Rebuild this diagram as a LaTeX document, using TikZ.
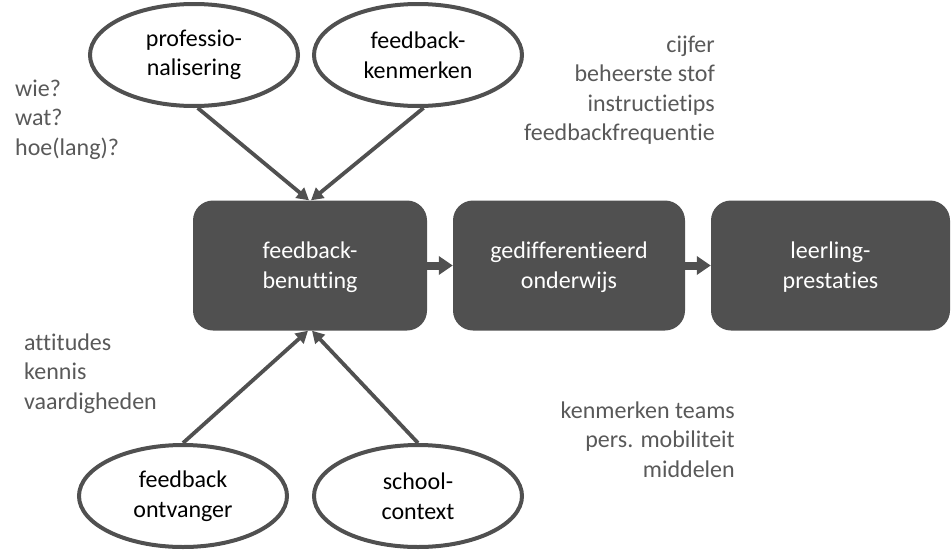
\documentclass[tikz,border=0pt]{standalone}
\usepackage{fontspec}
\setmainfont{Carlito}[Ligatures=NoCommon]
\usetikzlibrary{arrows.meta,shapes.geometric}
\definecolor{boxgray}{HTML}{505050}
\definecolor{txtgray}{HTML}{595959}
\begin{document}
\begin{tikzpicture}[x=1pt,y=-1pt,
 every node/.style={font=\fontsize{24}{29.5}\selectfont},
 darkbox/.style={rectangle, rounded corners=20pt, fill=boxgray, text=white, minimum width=234pt, minimum height=130pt, align=center, inner sep=0pt, text depth=1pt},
 oval/.style={ellipse, draw=boxgray, line width=4pt, fill=white, minimum width=208pt, minimum height=102pt, align=center, inner sep=0pt},
 link/.style={draw=boxgray, line width=3.8pt, -{Triangle[length=12pt,width=13pt]}},
 flow/.style={draw=boxgray, line width=8pt, -{Triangle[length=14pt,width=18pt]}},
 note/.style={text=txtgray, inner sep=0pt}]
\useasboundingbox (0,0) rectangle (951,552);

% main boxes
\node[darkbox] (b1) at (310,265.5) {feedback-\\benutting};
\node[darkbox, minimum width=232pt] (b2) at (569,265.5) {gedifferentieerd\\onderwijs};
\node[darkbox, minimum width=239pt] (b3) at (830.5,265.5) {leerling-\\prestaties};

% ellipses
\node[oval] (prof) at (194,55) {professio-\\nalisering};
\node[oval] (kenm) at (418,55) {feedback-\\kenmerken};
\node[oval] (ontv) at (183,496) {feedback\\ontvanger};
\node[oval] (school) at (418,496) {school-\\context};

% connectors
\draw[flow] (b1.east) -- (b2.west);
\draw[flow] (b2.east) -- (b3.west);
\draw[link] (prof.-86) -- ([xshift=-1pt]b1.north);
\draw[link] (kenm.-84) -- ([xshift=1pt]b1.north);
\draw[link] (ontv.north) -- ([xshift=-2pt]b1.south);
\draw[link] (school.north) -- ([xshift=2pt]b1.south);

% annotations
\node[note, anchor=base west] (n1) at (15,96) {\begin{tabular}[t]{@{}l@{}}wie?\\wat?\\hoe(lang)?\end{tabular}};
\node[note, anchor=base east] (n2) at (715,52) {\begin{tabular}[t]{@{}r@{}}cijfer\\beheerste stof\\instructietips\\feedbackfrequentie\end{tabular}};
\node[note, anchor=base west] (n3) at (24,350) {\begin{tabular}[t]{@{}l@{}}attitudes\\kennis\\vaardigheden\end{tabular}};
\node[note, anchor=base east] (n4) at (735,418) {\begin{tabular}[t]{@{}r@{}}kenmerken teams\\pers. mobiliteit\\middelen\end{tabular}};
\end{tikzpicture}
\end{document}
